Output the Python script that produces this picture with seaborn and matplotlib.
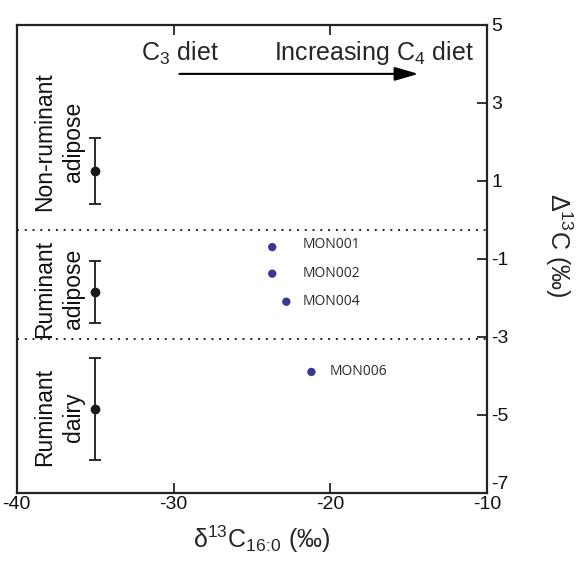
import matplotlib
matplotlib.use("Agg")
import matplotlib.pyplot as plt
import pandas as pd
import seaborn as sns

# reference ranges (mean +/- error), drawn at a fixed d13C position
REF_GROUPS = ["Non-ruminant\nadipose", "Ruminant\nadipose", "Ruminant\ndairy"]
REF_X = [-35.0, -35.0, -35.0]
REF_Y = [1.25, -1.85, -4.85]
REF_ERR = [0.85, 0.8, 1.3]
REF_LABEL_Y = [2.0, -1.77, -5.05]

# samples
SAMPLES = ["MON001", "MON002", "MON004", "MON006"]
SAMPLE_D13C = [-23.7, -23.7, -22.8, -21.2]
SAMPLE_BIG_D13C = [-0.7, -1.38, -2.1, -3.9]

BOUNDARIES = [-0.25, -3.05]
X_TICKS = [-40, -30, -20, -10]
Y_TICKS = [5, 3, 1, -1, -3, -5, -7]

DOT_COLOR = "#3b3790"


def main():
    sns.set_theme(style="white")
    plt.rcParams["font.family"] = ["Liberation Sans", "DejaVu Sans"]
    plt.rcParams["mathtext.fontset"] = "custom"
    plt.rcParams["mathtext.rm"] = "Liberation Sans"
    plt.rcParams["mathtext.it"] = "Liberation Sans"
    plt.rcParams["axes.unicode_minus"] = False

    fig = plt.figure(figsize=(5.79, 5.62), dpi=100)
    ax = fig.add_axes([0.029, 0.123, 0.812, 0.833])

    samples = pd.DataFrame({"name": SAMPLES, "x": SAMPLE_D13C, "y": SAMPLE_BIG_D13C})
    sns.scatterplot(data=samples, x="x", y="y", ax=ax, color=DOT_COLOR,
                    s=36, edgecolor="none", zorder=3, legend=False)
    offsets = {"MON001": (22, 2), "MON002": (22, 0), "MON004": (12, 0), "MON006": (13, 0)}
    for _, row in samples.iterrows():
        ax.annotate(row["name"], (row["x"], row["y"]), textcoords="offset points",
                    xytext=offsets[row["name"]], ha="left", va="center",
                    fontsize=10, color="#2a2a2a", family=["Open Sans", "DejaVu Sans"])

    ax.errorbar(REF_X, REF_Y, yerr=REF_ERR, fmt="o", color="#1a1a1a",
                markersize=6, elinewidth=1.3, capsize=4.5, capthick=1.3, zorder=3)
    for label, ly in zip(REF_GROUPS, REF_LABEL_Y):
        ax.text(-37.3, ly, label, rotation=90, ha="center", va="center",
                fontsize=16.5, linespacing=1.3, color="#111111")

    for b in BOUNDARIES:
        ax.axhline(b, color="#222222", linestyle=(0, (1, 3)), linewidth=1.4)

    # diet arrow
    ax.annotate("", xy=(-14.2, 3.74), xytext=(-29.8, 3.74),
                arrowprops=dict(arrowstyle="-|>,head_length=1.2,head_width=0.35",
                                color="black", lw=1.5))
    ax.text(-29.6, 4.27, "C$_3$ diet", ha="center", va="center", fontsize=18)
    ax.text(-17.2, 4.27, "Increasing C$_4$ diet", ha="center", va="center", fontsize=18)

    ax.set_xlim(-40, -10)
    ax.set_ylim(-7, 5)
    ax.set_xticks(X_TICKS)
    ax.set_yticks(Y_TICKS)
    ax.set_xticklabels([str(t) for t in X_TICKS])
    ax.set_yticklabels([str(t) for t in Y_TICKS])
    ax.yaxis.tick_right()
    ax.tick_params(axis="y", direction="in", length=7, width=1.2, labelsize=14,
                   pad=3, left=False, right=True, colors="#111111")
    ax.tick_params(axis="x", direction="in", length=7, width=1.2, labelsize=14,
                   pad=2, top=True, bottom=True, colors="#111111")
    # bottom y label sits above its tick, clear of the x labels
    ax.get_yticklabels()[-1].set_verticalalignment("bottom")
    for spine in ax.spines.values():
        spine.set_visible(True)
        spine.set_color("#222222")
        spine.set_linewidth(1.6)

    ax.set_xlabel(r"δ$^{13}$C$_{16\!:\!0}$ (‰)", fontsize=18, va="center")
    ax.xaxis.set_label_coords(0.52, -0.10)
    ax.yaxis.set_label_position("right")
    ax.set_ylabel("Δ$^{13}$C (‰)", fontsize=18, rotation=270, va="center")
    ax.yaxis.set_label_coords(1.152, 0.53)

    fig.savefig("out.png", dpi=100)
    plt.close(fig)


if __name__ == "__main__":
    main()
